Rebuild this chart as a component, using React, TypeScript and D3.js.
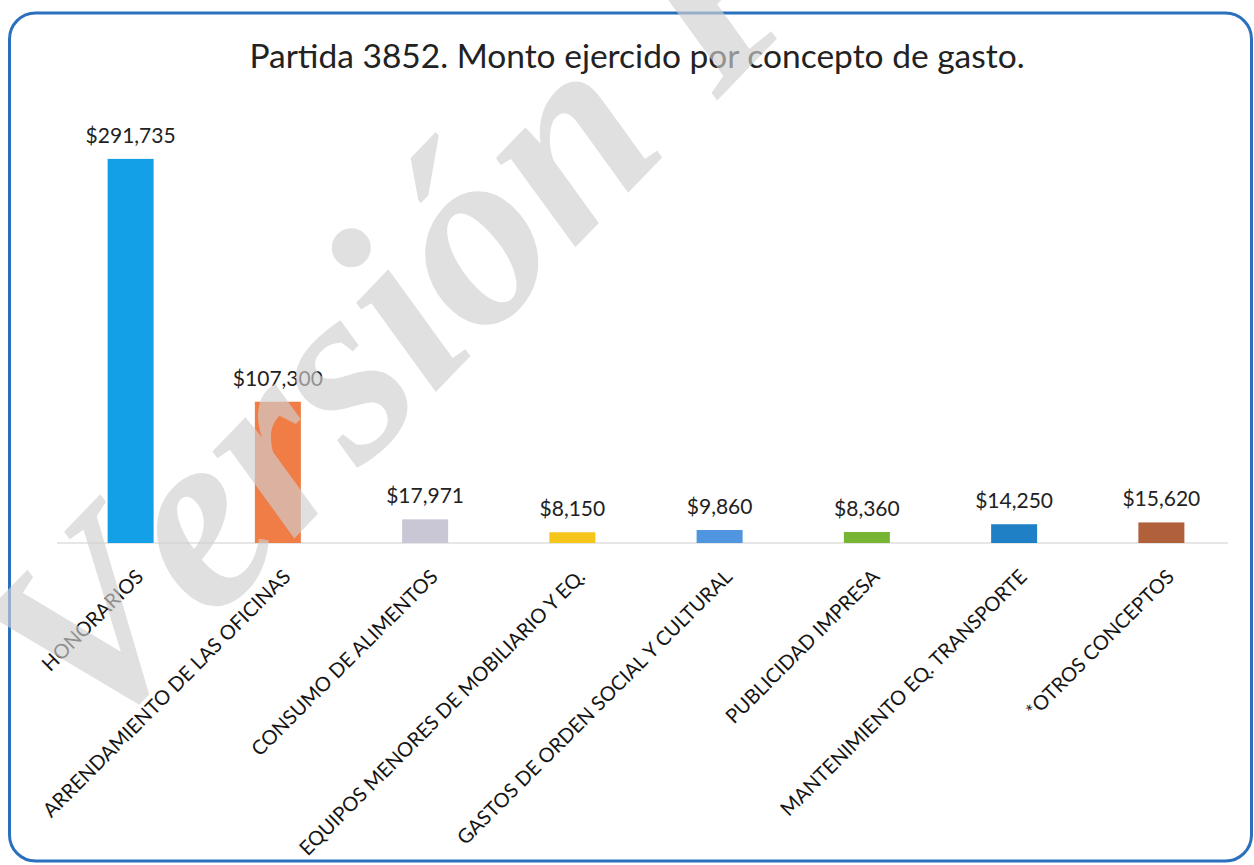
import React from "react";
import * as d3 from "d3";

const title = "Partida 3852. Monto ejercido por concepto de gasto.";
const categories = [
  "HONORARIOS",
  "ARRENDAMIENTO DE LAS OFICINAS",
  "CONSUMO DE ALIMENTOS",
  "EQUIPOS MENORES DE MOBILIARIO Y EQ.",
  "GASTOS DE ORDEN SOCIAL Y CULTURAL",
  "PUBLICIDAD IMPRESA",
  "MANTENIMIENTO EQ. TRANSPORTE",
  "*OTROS CONCEPTOS",
];
const values = [291735, 107300, 17971, 8150, 9860, 8360, 14250, 15620];
const colors = ["#14a0e6", "#ef7d45", "#c9c6d6", "#f6c51a", "#4f95df", "#79b534", "#1f80c6", "#b0603a"];
const watermark = "Versión Pública";

const W = 1254;
const H = 865;

export default function App() {
  const x = d3
    .scaleBand<string>()
    .domain(categories)
    .range([57, 1235])
    .paddingInner(0.6876)
    .paddingOuter(0.3438);
  const y = d3.scaleLinear().domain([0, 300000]).range([543, 148]);
  const fmt = (v: number) => "$" + d3.format(",")(v);
  const font = "Lato, 'Open Sans', sans-serif";

  return (
    <div style={{ position: "absolute", left: 0, top: 0 }}>
      <svg width={W} height={H} style={{ display: "block", background: "#fff" }}>
        <rect x={9.5} y={13} width={1242} height={848} rx={26} ry={26} fill="#fff" stroke="#2a70bd" strokeWidth={3} />
        <text x={637} y={68} textAnchor="middle" fontFamily={font} fontSize={33.5} fill="#222">
          {title}
        </text>
        <line x1={57} x2={1228} y1={y(0)} y2={y(0)} stroke="#dedede" strokeWidth={1.5} />
        {categories.map((c, i) => {
          const bx = x(c) as number;
          const bw = x.bandwidth();
          const cx = bx + bw / 2;
          return (
            <g key={c}>
              <rect x={bx} y={y(values[i])} width={bw} height={y(0) - y(values[i])} fill={colors[i]} />
              <text x={cx} y={y(values[i]) - 16} textAnchor="middle" fontFamily={font} fontSize={21} fill="#222">
                {fmt(values[i])}
              </text>
              <text
                transform={`translate(${cx + 14},${578}) rotate(-45)`}
                textAnchor="end"
                fontFamily={font}
                fontSize={20}
                fill="#151515"
              >
                {c}
              </text>
            </g>
          );
        })}
        <text
          transform="translate(90,750) rotate(-46)"
          fontFamily="'Liberation Serif', 'DejaVu Serif', serif"
          fontStyle="italic"
          fontWeight="bold"
          fontSize={260}
          fill="#cfcfcf"
          fillOpacity={0.65}
          style={{ fontKerning: "none" }}
        >
          {watermark}
        </text>
      </svg>
    </div>
  );
}
